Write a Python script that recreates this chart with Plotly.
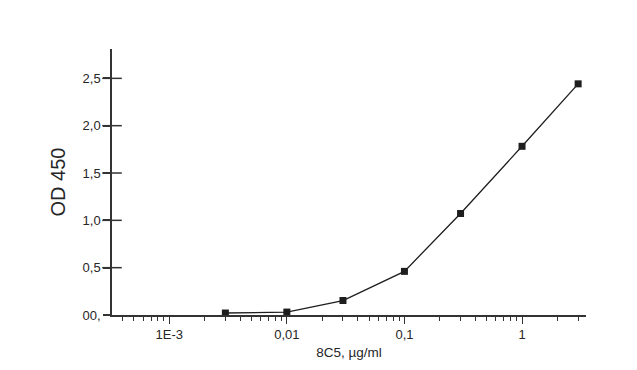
import plotly.graph_objects as go

# Antibody titration: concentration (µg/ml) vs optical density at 450 nm
conc = [0.003, 0.01, 0.03, 0.1, 0.3, 1, 3]
od450 = [0.021, 0.031, 0.153, 0.461, 1.072, 1.782, 2.442]

x_tickvals = [0.001, 0.01, 0.1, 1]
x_ticktext = ["1E-3", "0,01", "0,1", "1"]
y_tickvals = [0, 0.5, 1.0, 1.5, 2.0, 2.5]
y_ticktext = ["00,", "0,5", "1,0", "1,5", "2,0", "2,5"]

W, H = 637, 370
ML, MR, MT, MB = 112, 51, 49, 53
TICK = 7
x_range = [-3.487, 0.544]

axis_col = "#333333"
txt_col = "#262626"
font_family = "Liberation Sans, Arial, sans-serif"

fig = go.Figure()
fig.add_trace(go.Scatter(
    x=conc, y=od450, mode="lines+markers",
    line=dict(color="#1e1e1e", width=1.3),
    marker=dict(symbol="square", size=7, color="#1e1e1e"),
    showlegend=False, hoverinfo="x+y",
))
# Major y ticks crossing the axis line: horizontal dashes centred on it
fig.add_trace(go.Scatter(
    x=[10 ** x_range[0]] * (len(y_tickvals) - 1), y=y_tickvals[1:],
    mode="markers", cliponaxis=False,
    marker=dict(symbol="line-ew", size=2 * TICK,
                line=dict(color=axis_col, width=1.5)),
    showlegend=False, hoverinfo="skip",
))

fig.update_layout(
    width=W, height=H,
    margin=dict(l=ML, r=MR, t=MT, b=MB),
    paper_bgcolor="white", plot_bgcolor="white",
    font=dict(family=font_family, size=13, color=txt_col),
    xaxis=dict(
        type="log", range=x_range,
        tickmode="array", tickvals=x_tickvals, ticktext=x_ticktext,
        ticks="outside", ticklen=TICK, tickwidth=1.2, tickcolor=axis_col,
        minor=dict(ticks="outside", ticklen=4, tickwidth=1, tickcolor=axis_col,
                   dtick="D1", showgrid=False),
        showline=True, linecolor=axis_col, linewidth=1.5,
        showgrid=False, zeroline=False,
        tickfont=dict(size=13, color=txt_col),
        title=dict(text="8C5, µg/ml", font=dict(size=13.5, color=txt_col), standoff=6),
    ),
    yaxis=dict(
        range=[0, 2.81],
        tickmode="array", tickvals=y_tickvals, ticktext=y_ticktext,
        ticks="outside", ticklen=TICK, tickwidth=1.5, tickcolor=axis_col,
        showline=True, linecolor=axis_col, linewidth=1.5,
        showgrid=False, zeroline=False,
        tickfont=dict(size=13, color=txt_col),
        title=dict(text="OD 450", font=dict(size=20, color=txt_col), standoff=12),
    ),
)

fig.write_html("out.html")
